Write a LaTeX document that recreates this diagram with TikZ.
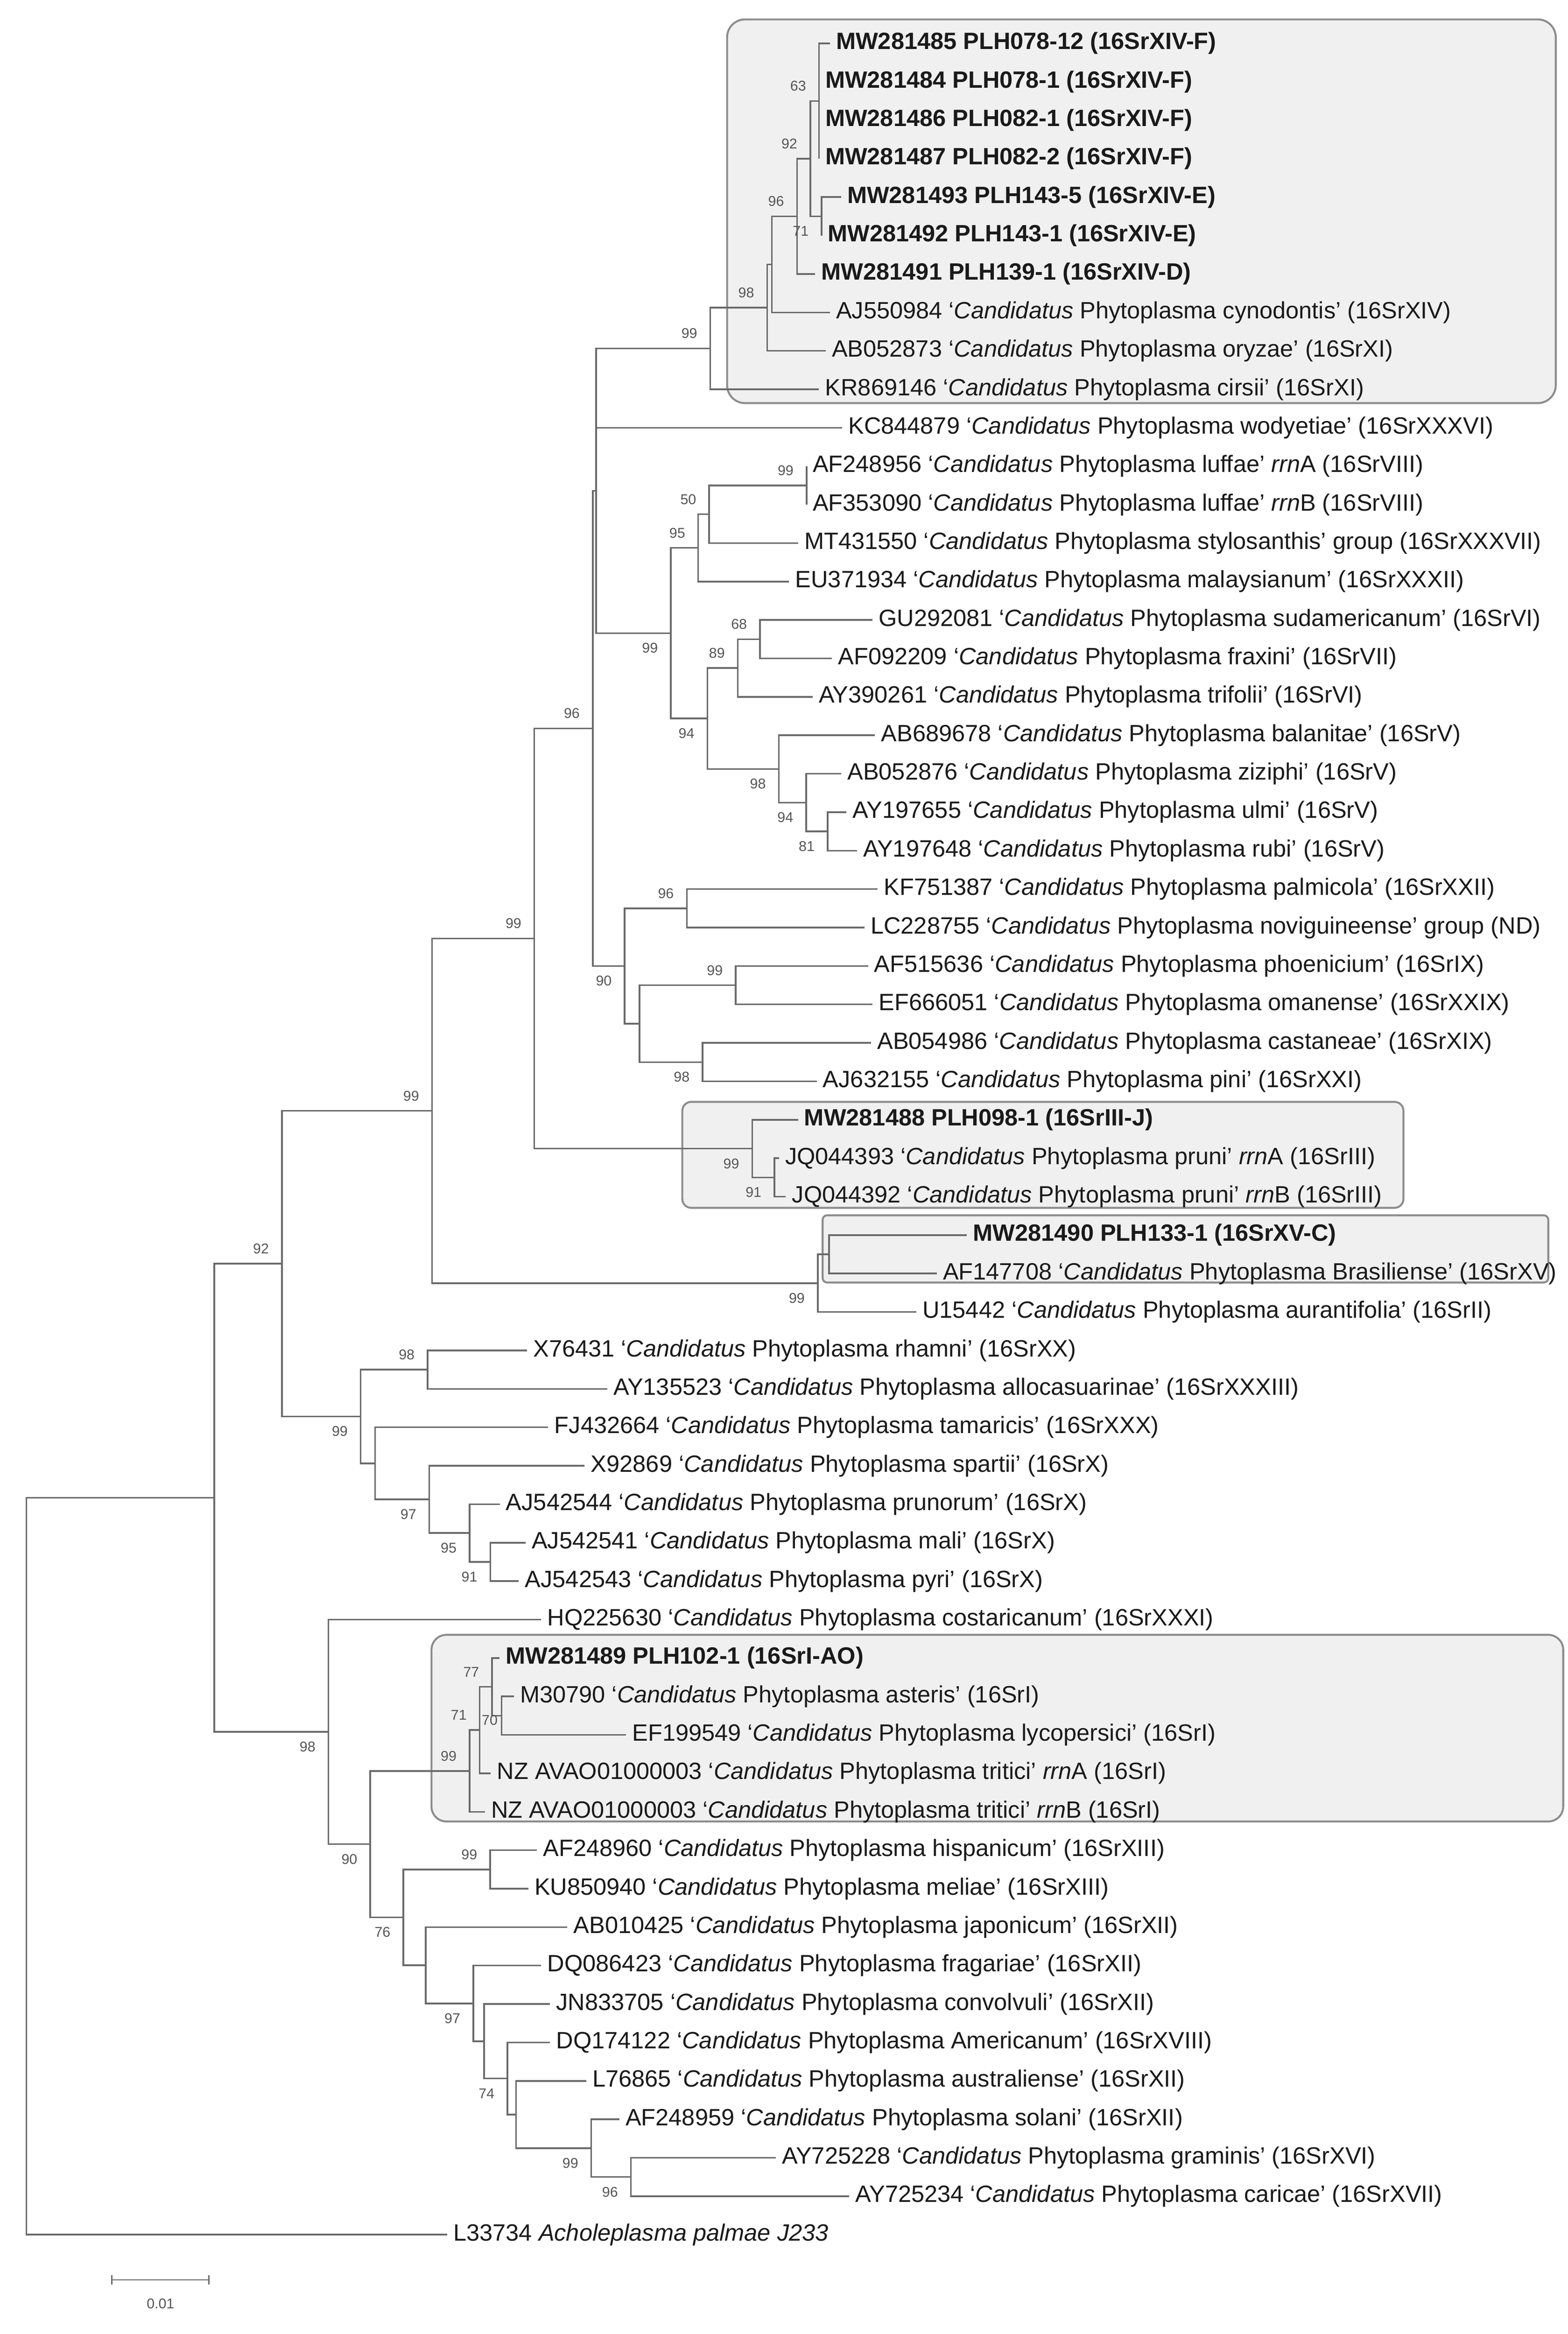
\documentclass[tikz,border=0pt]{standalone}
\usepackage{fontspec}
\setmainfont{Liberation Sans}
\usetikzlibrary{calc}
\definecolor{brc}{HTML}{6A6A6A}
\definecolor{txc}{HTML}{1A1A1A}
\definecolor{bsc}{HTML}{555555}
\definecolor{boxf}{HTML}{F0F0F0}
\definecolor{boxd}{HTML}{8C8C8C}
\newcommand\cp[1]{‘\textit{Candidatus} Phytoplasma #1’}
\newcommand\lf[3]{\node[leaf] (L#1) at (#2, {29+(#1-1)*25.75}) {#3};}
\newcommand\inode[4]{\path let \p1=(#3), \p2=(#4) in coordinate (#1) at (#2pt, {0.5*\y1+0.5*\y2});}
\newcommand\bsa[3]{\node[bs] (#1) at ($(#2)+(-14pt,10pt)$) {#3};}
\newcommand\bsb[3]{\node[bs] (#1) at ($(#2)+(-14pt,-10pt)$) {#3};}
\tikzset{
 leaf/.style={anchor=west,inner xsep=4pt,inner ysep=0pt,text=txc,font=\fontsize{15.8}{17}\selectfont},
 bs/.style={inner sep=0pt,text=bsc,font=\fontsize{9.5}{10}\selectfont},
 br/.style={draw=brc,line width=1.1pt},
 cbox/.style={fill=boxf,draw=boxd,line width=1.3pt}
}
\begin{document}
\begin{tikzpicture}[x=1pt,y=-1pt]
\useasboundingbox (0,0) rectangle (1050,1563.3);
\fill[white] (0,0) rectangle (1050,1563.3);
% clade boxes
\draw[cbox,rounded corners=12pt] (487,13) rectangle (1042,270);
\draw[cbox,rounded corners=6pt] (457,738) rectangle (940,809);
\draw[cbox,rounded corners=3pt] (551,814) rectangle (1037,859);
\draw[cbox,rounded corners=10pt] (289,1095) rectangle (1047,1220);
% leaves
\lf{1}{555.8}{\textbf{MW281485 PLH078-12 (16SrXIV-F)}}
\lf{2}{548.6}{\textbf{MW281484 PLH078-1 (16SrXIV-F)}}
\lf{3}{548.6}{\textbf{MW281486 PLH082-1 (16SrXIV-F)}}
\lf{4}{548.6}{\textbf{MW281487 PLH082-2 (16SrXIV-F)}}
\lf{5}{563.3}{\textbf{MW281493 PLH143-5 (16SrXIV-E)}}
\lf{6}{550.3}{\textbf{MW281492 PLH143-1 (16SrXIV-E)}}
\lf{7}{546}{\textbf{MW281491 PLH139-1 (16SrXIV-D)}}
\lf{8}{555.8}{AJ550984 \cp{cynodontis} (16SrXIV)}
\lf{9}{553}{AB052873 \cp{oryzae} (16SrXI)}
\lf{10}{548.5}{KR869146 \cp{cirsii} (16SrXI)}
\lf{11}{564}{KC844879 \cp{wodyetiae} (16SrXXXVI)}
\lf{12}{540.2}{AF248956 \cp{luffae} \textit{rrn}A (16SrVIII)}
\lf{13}{540.2}{AF353090 \cp{luffae} \textit{rrn}B (16SrVIII)}
\lf{14}{534.6}{MT431550 \cp{stylosanthis} group (16SrXXXVII)}
\lf{15}{528.5}{EU371934 \cp{malaysianum} (16SrXXXII)}
\lf{16}{584.3}{GU292081 \cp{sudamericanum} (16SrVI)}
\lf{17}{557.3}{AF092209 \cp{fraxini} (16SrVII)}
\lf{18}{544.2}{AY390261 \cp{trifolii} (16SrVI)}
\lf{19}{586}{AB689678 \cp{balanitae} (16SrV)}
\lf{20}{563.4}{AB052876 \cp{ziziphi} (16SrV)}
\lf{21}{567}{AY197655 \cp{ulmi} (16SrV)}
\lf{22}{574}{AY197648 \cp{rubi} (16SrV)}
\lf{23}{587.8}{KF751387 \cp{palmicola} (16SrXXII)}
\lf{24}{579}{LC228755 \cp{noviguineense} group (ND)}
\lf{25}{581.4}{AF515636 \cp{phoenicium} (16SrIX)}
\lf{26}{584.4}{EF666051 \cp{omanense} (16SrXXIX)}
\lf{27}{583.4}{AB054986 \cp{castaneae} (16SrXIX)}
\lf{28}{547}{AJ632155 \cp{pini} (16SrXXI)}
\lf{29}{534.5}{\textbf{MW281488 PLH098-1 (16SrIII-J)}}
\lf{30}{521.7}{JQ044393 \cp{pruni} \textit{rrn}A (16SrIII)}
\lf{31}{526.3}{JQ044392 \cp{pruni} \textit{rrn}B (16SrIII)}
\lf{32}{647.6}{\textbf{MW281490 PLH133-1 (16SrXV-C)}}
\lf{33}{627.4}{AF147708 \cp{Brasiliense} (16SrXV)}
\lf{34}{613.7}{U15442 \cp{aurantifolia} (16SrII)}
\lf{35}{353}{X76431 \cp{rhamni} (16SrXX)}
\lf{36}{406.7}{AY135523 \cp{allocasuarinae} (16SrXXXIII)}
\lf{37}{367.2}{FJ432664 \cp{tamaricis} (16SrXXX)}
\lf{38}{391.6}{X92869 \cp{spartii} (16SrX)}
\lf{39}{334.7}{AJ542544 \cp{prunorum} (16SrX)}
\lf{40}{352}{AJ542541 \cp{mali} (16SrX)}
\lf{41}{347.5}{AJ542543 \cp{pyri} (16SrX)}
\lf{42}{362.5}{HQ225630 \cp{costaricanum} (16SrXXXI)}
\lf{43}{334.5}{\textbf{MW281489 PLH102-1 (16SrI-AO)}}
\lf{44}{344.2}{M30790 \cp{asteris} (16SrI)}
\lf{45}{419.3}{EF199549 \cp{lycopersici} (16SrI)}
\lf{46}{328.7}{NZ AVAO01000003 \cp{tritici} \textit{rrn}A (16SrI)}
\lf{47}{324.8}{NZ AVAO01000003 \cp{tritici} \textit{rrn}B (16SrI)}
\lf{48}{359.6}{AF248960 \cp{hispanicum} (16SrXIII)}
\lf{49}{353.8}{KU850940 \cp{meliae} (16SrXIII)}
\lf{50}{380}{AB010425 \cp{japonicum} (16SrXII)}
\lf{51}{362.5}{DQ086423 \cp{fragariae} (16SrXII)}
\lf{52}{368.4}{JN833705 \cp{convolvuli} (16SrXII)}
\lf{53}{368.4}{DQ174122 \cp{Americanum} (16SrXVIII)}
\lf{54}{392.6}{L76865 \cp{australiense} (16SrXII)}
\lf{55}{414.8}{AF248959 \cp{solani} (16SrXII)}
\lf{56}{519.6}{AY725228 \cp{graminis} (16SrXVI)}
\lf{57}{568.7}{AY725234 \cp{caricae} (16SrXVII)}
\lf{58}{299.5}{L33734 \textit{Acholeplasma palmae J233}}
% internal nodes
\inode{nD}{548.6}{L1}{L4}
\inode{nE}{550.3}{L5}{L6}
\inode{nC}{542.7}{nD}{nE}
\inode{nB}{533.8}{nC}{L7}
\inode{nA}{517}{nB}{L8}
\inode{nT98}{513.8}{nA}{L9}
\inode{nT99}{475.7}{nT98}{L10}
\inode{n99c}{540.2}{L12}{L13}
\inode{n50}{475}{n99c}{L14}
\inode{n95}{467.6}{n50}{L15}
\inode{n68}{509}{L16}{L17}
\inode{n89}{494.2}{n68}{L18}
\inode{n81}{554.3}{L21}{L22}
\inode{n94b}{540}{L20}{n81}
\inode{n98b}{521.6}{L19}{n94b}
\inode{n94}{473.8}{n89}{n98b}
\inode{n99b}{449.3}{n95}{n94}
\inode{nTop}{399.3}{nT99}{n99b}
\inode{n96c}{460}{L23}{L24}
\inode{n99d}{492.8}{L25}{L26}
\inode{n98d}{470.6}{L27}{L28}
\inode{nLow}{428.4}{n99d}{n98d}
\inode{n90}{418.4}{n96c}{nLow}
\inode{n96}{397}{nTop}{n90}
\inode{n91}{518.7}{L30}{L31}
\inode{n99f}{503.8}{L29}{n91}
\inode{n358}{357.9}{n96}{n99f}
\inode{nPair}{555.3}{L32}{L33}
\inode{n99e}{547.7}{nPair}{L34}
\inode{nBig}{289.4}{n358}{n99e}
\inode{n98h}{286.4}{L35}{L36}
\inode{n91b}{328.4}{L40}{L41}
\inode{n95b}{314.5}{L39}{n91b}
\inode{n97}{287.5}{L38}{n95b}
\inode{n251}{251.2}{L37}{n97}
\inode{n99g}{241.6}{n98h}{n251}
\inode{n92}{188.8}{nBig}{n99g}
\inode{n70}{336}{L44}{L45}
\inode{nb}{329.6}{L43}{n70}
\inode{n71}{321.3}{nb}{L46}
\inode{n99box}{314.5}{n71}{L47}
\inode{n99i}{328.3}{L48}{L49}
\inode{n96L}{422.6}{L56}{L57}
\inode{n99j}{396}{L55}{n96L}
\inode{ne}{345.7}{L54}{n99j}
\inode{nd}{339.9}{L53}{ne}
\inode{n74}{324.2}{L52}{nd}
\inode{n97L}{317}{L51}{n74}
\inode{nc}{285.1}{L50}{n97L}
\inode{n76}{270.2}{n99i}{nc}
\inode{n90L}{248}{n99box}{n76}
\inode{n98L}{220}{L42}{n90L}
\inode{nA92}{143.5}{n92}{n98L}
\inode{root}{17.6}{nA92}{L58}
% branches
\foreach \p/\cs in {nD/{L1.west,L2.west,L3.west,L4.west}, nE/{L5.west,L6.west}, nC/{nD,nE}, nB/{nC,L7.west}, nA/{nB,L8.west}, nT98/{nA,L9.west}, nT99/{nT98,L10.west}, nTop/{nT99,L11.west,n99b},
 n99c/{L12.west,L13.west}, n50/{n99c,L14.west}, n95/{n50,L15.west}, n68/{L16.west,L17.west}, n89/{n68,L18.west}, n81/{L21.west,L22.west}, n94b/{L20.west,n81}, n98b/{L19.west,n94b}, n94/{n89,n98b}, n99b/{n95,n94},
 n96c/{L23.west,L24.west}, n99d/{L25.west,L26.west}, n98d/{L27.west,L28.west}, nLow/{n99d,n98d}, n90/{n96c,nLow}, n96/{nTop,n90},
 n91/{L30.west,L31.west}, n99f/{L29.west,n91}, n358/{n96,n99f}, nPair/{L32.west,L33.west}, n99e/{nPair,L34.west}, nBig/{n358,n99e},
 n98h/{L35.west,L36.west}, n91b/{L40.west,L41.west}, n95b/{L39.west,n91b}, n97/{L38.west,n95b}, n251/{L37.west,n97}, n99g/{n98h,n251}, n92/{nBig,n99g},
 n70/{L44.west,L45.west}, nb/{L43.west,n70}, n71/{nb,L46.west}, n99box/{n71,L47.west}, n99i/{L48.west,L49.west}, n96L/{L56.west,L57.west}, n99j/{L55.west,n96L}, ne/{L54.west,n99j}, nd/{L53.west,ne}, n74/{L52.west,nd}, n97L/{L51.west,n74}, nc/{L50.west,n97L}, n76/{n99i,nc}, n90L/{n99box,n76}, n98L/{L42.west,n90L}, nA92/{n92,n98L}, root/{nA92,L58.west}}
 {\foreach \c in \cs {\draw[br] (\p) |- (\c);}}
% bootstrap values
\bsa{b1}{nD}{63} \bsa{b2}{nC}{92} \bsb{b3}{nE}{71} \bsa{b4}{nB}{96} \bsa{b5}{nT98}{98} \bsa{b6}{nT99}{99}
\bsa{b7}{n99c}{99} \bsa{b8}{n50}{50} \bsa{b9}{n95}{95} \bsb{b10}{n99b}{99} \bsa{b11}{n68}{68} \bsa{b12}{n89}{89} \bsb{b13}{n94}{94}
\bsb{b14}{n98b}{98} \bsb{b15}{n94b}{94} \bsb{b16}{n81}{81} \bsa{b17}{n96}{96} \bsa{b18}{n96c}{96} \bsb{b19}{n90}{90} \bsa{b20}{n99d}{99} \bsb{b21}{n98d}{98}
\bsa{b22}{n358}{99} \bsb{b23}{n99f}{99} \bsb{b24}{n91}{91} \bsb{b25}{n99e}{99} \bsa{b26}{nBig}{99} \bsa{b27}{n92}{92}
\bsa{b28}{n98h}{98} \bsb{b29}{n99g}{99} \bsb{b30}{n97}{97} \bsb{b31}{n95b}{95} \bsb{b32}{n91b}{91}
\bsb{b33}{n98L}{98} \bsb{b34}{n90L}{90} \bsa{b35}{n99box}{99} \bsa{b36}{n71}{71} \bsa{b37}{nb}{77}
\node[bs] (b38) at ($(n70)+(-8pt,-3pt)$) {70};
\bsb{b39}{n76}{76} \bsa{b40}{n99i}{99} \bsb{b41}{n97L}{97} \bsb{b42}{nd}{74} \bsb{b43}{n99j}{99} \bsb{b44}{n96L}{96}
% scale bar
\coordinate (s1) at (75,1527); \coordinate (s2) at (140,1527);
\draw[br,line width=0.9pt] (s1) -- (s2);
\draw[br,line width=0.9pt] ($(s1)+(0,3pt)$) -- ($(s1)+(0,-3pt)$);
\draw[br,line width=0.9pt] ($(s2)+(0,3pt)$) -- ($(s2)+(0,-3pt)$);
\node[bs] (sbl) at (107.5,1543) {0.01};
\end{tikzpicture}
\end{document}
